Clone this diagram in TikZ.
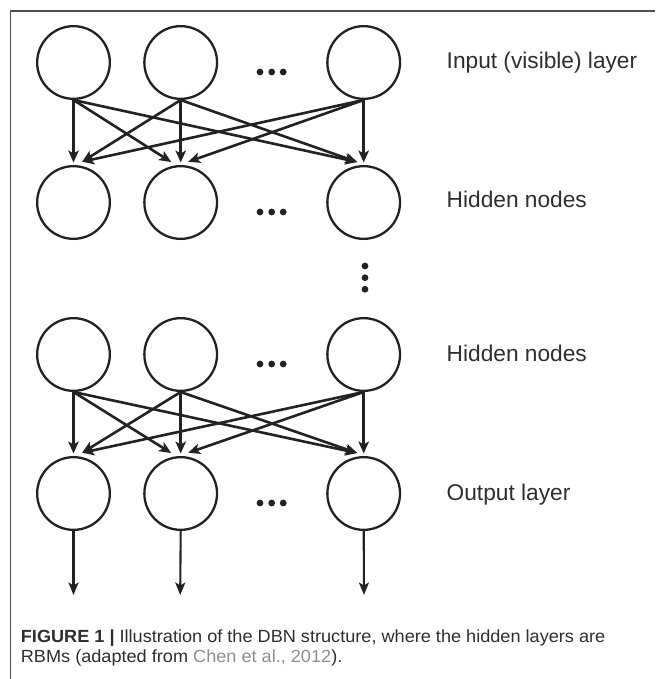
\documentclass[tikz,border=0pt]{standalone}
\usepackage{fontspec}
\setmainfont{Liberation Sans}
\usetikzlibrary{arrows.meta,calc}
\definecolor{inkc}{HTML}{222222}
\definecolor{textc}{HTML}{2E2E2E}
\definecolor{linkc}{HTML}{8E8E8E}
\definecolor{framec}{HTML}{505050}
\begin{document}
\begin{tikzpicture}[x=1pt,y=-1pt,
  neuron/.style={circle,draw=inkc,line width=2.3pt,minimum size=72.7pt,inner sep=0pt},
  conn/.style={draw=inkc,line width=2.6pt,-{Stealth[length=12pt,width=10.5pt,inset=3pt]}},
  outconn/.style={draw=inkc,line width=2.1pt,-{Stealth[length=12.5pt,width=10pt,inset=3pt]}},
  layerlabel/.style={anchor=base west,inner sep=0pt,text=textc,font=\fontsize{22.7}{27}\selectfont},
  captext/.style={anchor=base west,inner sep=0pt,text=textc,font=\fontsize{17.6}{20}\selectfont},
  dotc/.style={fill=inkc}]
\useasboundingbox (0,0) rectangle (655,679);
% frame
\draw[framec,line width=1.2pt] (655,11) -- (10.5,11) -- (10.5,679);
% rows
\foreach \r/\y in {a/62.5,b/202.5,c/354.5,d/493.5}{
  \node[neuron] (\r1) at (73.5,\y) {};
  \node[neuron] (\r2) at (180.7,\y) {};
  \node[neuron] (\r3) at (363.7,\y) {};
  \fill[dotc] (260,\y+9.5) circle (3.4);
  \fill[dotc] (271.7,\y+9.5) circle (3.4);
  \fill[dotc] (283.2,\y+9.5) circle (3.4);
}
% vertical dots
\fill[dotc] (365,266) circle (3.4);
\fill[dotc] (365,277.7) circle (3.4);
\fill[dotc] (365,289.3) circle (3.4);
% target coordinates
\foreach \r in {b,d}{
  \coordinate (\r1M) at ($(\r1.north)+(0,-2.5)$);
  \coordinate (\r1R) at ($(\r1.north)+(8.7,-3.3)$);
  \coordinate (\r2M) at ($(\r2.north)+(0,-2.5)$);
  \coordinate (\r2L) at ($(\r2.north)+(-9.5,-3)$);
  \coordinate (\r2R) at ($(\r2.north)+(7.5,-3.2)$);
  \coordinate (\r3M) at ($(\r3.north)+(0,-2.5)$);
  \coordinate (\r3L) at ($(\r3.north)+(-6.5,-3)$);
}
% connections
\foreach \s/\t in {a/b,c/d}{
  \draw[conn] (\s1.south) -- (\t1M);
  \draw[conn] (\s1.south) -- (\t2L);
  \draw[conn] (\s1.south) -- (\t3L);
  \draw[conn] (\s2.south) -- (\t1R);
  \draw[conn] (\s2.south) -- (\t2M);
  \draw[conn] (\s2.south) -- (\t3L);
  \draw[conn] (\s3.south) -- (\t1R);
  \draw[conn] (\s3.south) -- (\t2R);
  \draw[conn] (\s3.south) -- (\t3M);
}
% outputs
\coordinate (o1) at (73.5,595);
\coordinate (o2) at (180.2,595);
\coordinate (o3) at (364,595);
\draw[outconn] (d1.south) -- (o1);
\draw[outconn] (d2.south) -- (o2);
\draw[outconn] (d3.south) -- (o3);
% labels
\node[layerlabel] (l1) at (446.5,68.3) {Input (visible) layer};
\node[layerlabel] (l2) at (446.5,207.3) {Hidden nodes};
\node[layerlabel] (l3) at (446.5,361.7) {Hidden nodes};
\node[layerlabel] (l4) at (446.5,500.7) {Output layer};
% caption
\node[captext] (cap1) at (20.7,642.7) {\scalebox{1.03}[1]{\textbf{FIGURE 1 |} Illustration of the DBN structure, where the hidden layers are}};
\node[captext] (cap2) at (20.7,662.3) {\scalebox{1.03}[1]{RBMs (adapted from \textcolor{linkc}{Chen et al., 2012}).}};
\end{tikzpicture}
\end{document}
